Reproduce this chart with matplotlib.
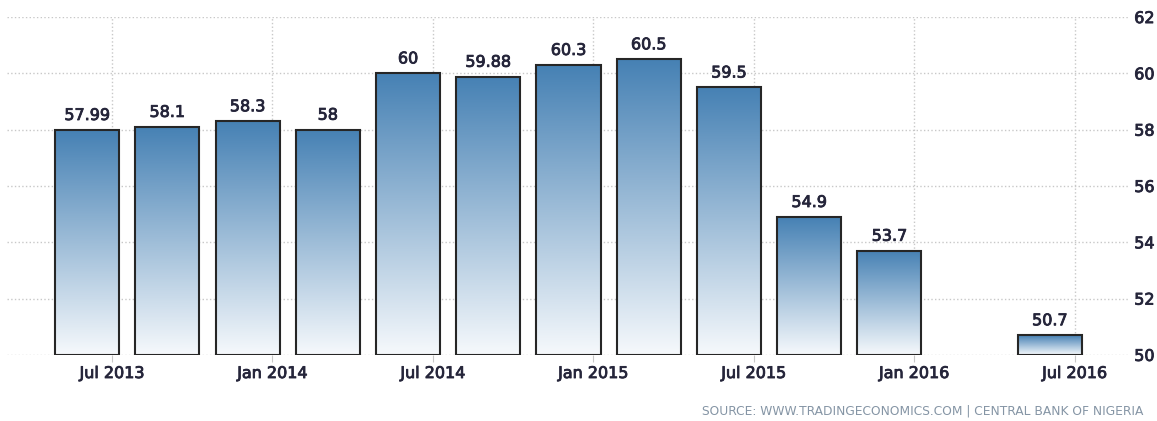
import matplotlib
matplotlib.use("Agg")
import matplotlib.pyplot as plt
import matplotlib.patheffects as pe
import numpy as np
from matplotlib.colors import LinearSegmentedColormap

# quarterly readings, Jul 2013 .. Jul 2016 (Apr 2016 has no value)
quarters = ["Jul 2013", "Oct 2013", "Jan 2014", "Apr 2014", "Jul 2014", "Oct 2014",
            "Jan 2015", "Apr 2015", "Jul 2015", "Oct 2015", "Jan 2016", "Apr 2016",
            "Jul 2016"]
values = [57.99, 58.1, 58.3, 58, 60, 59.88, 60.3, 60.5, 59.5, 54.9, 53.7, np.nan, 50.7]
value_labels = ["57.99", "58.1", "58.3", "58", "60", "59.88", "60.3", "60.5", "59.5",
                "54.9", "53.7", "", "50.7"]
tick_labels = ["Jul 2013", "Jan 2014", "Jul 2014", "Jan 2015", "Jul 2015", "Jan 2016",
               "Jul 2016"]
yticks = [50, 52, 54, 56, 58, 60, 62]
source = "SOURCE: WWW.TRADINGECONOMICS.COM | CENTRAL BANK OF NIGERIA"

base = 50
bar_w = 0.8
tick_shift = 0.31
txt_col = "#25253a"
# a touch heavier than regular weight
heavy = [pe.withStroke(linewidth=0.6, foreground=txt_col)]

cmap = LinearSegmentedColormap.from_list("te", ["#f6f9fc", "#4681b4"])
grad = np.linspace(0, 1, 256).reshape(-1, 1)

fig = plt.figure(figsize=(11.57, 4.21), dpi=100)
ax = fig.add_axes([0.006, 0.157, 0.9707, 0.8025])

x = np.arange(len(quarters))
bx, bh = [], []
for xi, v, lab in zip(x, values, value_labels):
    if np.isnan(v):
        continue
    bx.append(xi)
    bh.append(v - base)
    ax.imshow(grad, cmap=cmap, origin="lower", aspect="auto", zorder=2,
              extent=[xi - bar_w / 2, xi + bar_w / 2, base, v])
    ax.annotate(lab, (xi, v), xytext=(0, 5), textcoords="offset points",
                ha="center", va="bottom", fontsize=11.5, color=txt_col,
                path_effects=heavy)

ax.bar(bx, bh, width=bar_w, bottom=base, fill=False, edgecolor="#262626",
       linewidth=1.5, zorder=3)

ax.set_xlim(-1, 13)
ax.set_ylim(50, 62)
ax.set_xticks(x[::2] + tick_shift)
ax.set_xticklabels(tick_labels)
ax.set_yticks(yticks)
ax.yaxis.tick_right()
ax.grid(True, linestyle=":", color="#c8c8c8", linewidth=1, zorder=0)
ax.set_axisbelow(True)
for s in ax.spines.values():
    s.set_visible(False)
ax.tick_params(axis="x", length=5, color="#c8c8c8", labelsize=11.5, labelcolor=txt_col,
               pad=3)
ax.tick_params(axis="y", length=0, labelsize=11.5, labelcolor=txt_col, pad=3)
for t in ax.get_xticklabels() + ax.get_yticklabels():
    t.set_path_effects(heavy)

fig.text(0.988, 0.008, source, ha="right", va="bottom", fontsize=8.8, color="#8595a5")

fig.savefig("out.png", dpi=100)
